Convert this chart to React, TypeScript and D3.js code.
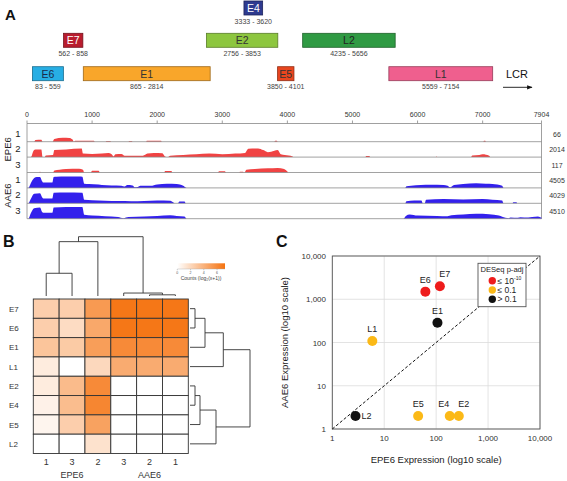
import React from 'react';
import * as d3 from 'd3';

// ---------- Panel A data ----------
const genomeLength = 7904;
const genomeTicks = [0, 1000, 2000, 3000, 4000, 5000, 6000, 7000, 7904];
const geneNames = ['E6', 'E7', 'E1', 'E2', 'E4', 'E5', 'L2', 'L1'];
const geneStart = [83, 562, 865, 2756, 3333, 3850, 4235, 5559];
const geneEnd = [559, 858, 2814, 3853, 3620, 4101, 5656, 7154];
const geneLane = [2, 1, 2, 1, 0, 2, 1, 2];
const geneFill = ['#27aee4', '#b91c2e', '#f9a62a', '#8dc63f', '#2e3a8f', '#e8461f', '#2f9a43', '#ef5f8e'];
const geneText = ['#1a2a4a', '#ffffff', '#333333', '#333333', '#ffffff', '#333333', '#222222', '#333333'];

const trackGroups = ['EPE6', 'EPE6', 'EPE6', 'AAE6', 'AAE6', 'AAE6'];
const trackReps = ['1', '2', '3', '1', '2', '3'];
const trackMax = [66, 2014, 117, 4505, 4029, 4510];

const covEPE6_1: [number, number][] = [[0, 0], [110, 0], [130, 0.12], [220, 0.14], [240, 0], [390, 0], [420, 0.2], [550, 0.28], [650, 0.27], [700, 0.15], [720, 0], [740, 0.06], [1030, 0.06], [1040, 0], [1210, 0], [1220, 0.05], [1280, 0.05], [1290, 0], [1560, 0], [1570, 0.05], [1610, 0.05], [1620, 0], [1830, 0], [1840, 0.07], [2060, 0.07], [2070, 0], [3800, 0], [3810, 0.06], [3840, 0.06], [3850, 0], [7010, 0], [7020, 0.06], [7040, 0.06], [7050, 0], [7904, 0]];
const covEPE6_2: [number, number][] = [[0, 0], [60, 0], [100, 0.45], [130, 0.55], [220, 0.55], [240, 0], [270, 0], [290, 0.12], [400, 0.15], [420, 0.5], [600, 0.55], [840, 0.62], [860, 0.25], [1000, 0.22], [1150, 0.25], [1250, 0.3], [1300, 0.2], [1330, 0.05], [1360, 0.2], [1450, 0.22], [1500, 0.1], [1600, 0.1], [1780, 0.1], [1850, 0.25], [1950, 0.3], [2080, 0.28], [2120, 0.05], [2160, 0], [2200, 0.1], [2400, 0.15], [2600, 0.2], [2800, 0.25], [3000, 0.2], [3200, 0.25], [3350, 0.3], [3400, 0.6], [3550, 0.62], [3630, 0.5], [3700, 0.35], [3800, 0.45], [3850, 0.5], [3900, 0.2], [3960, 0.15], [4080, 0.05], [4100, 0], [5200, 0], [5210, 0.07], [5260, 0.07], [5270, 0], [6280, 0], [6290, 0.04], [6300, 0], [6820, 0], [6840, 0.12], [6950, 0.15], [7000, 0.2], [7050, 0.17], [7100, 0.1], [7120, 0], [7904, 0]];
const covEPE6_3: [number, number][] = [[0, 0], [190, 0], [200, 0.07], [210, 0], [400, 0], [420, 0.15], [500, 0.2], [600, 0.25], [800, 0.27], [860, 0.2], [880, 0], [980, 0], [1000, 0.12], [1100, 0.12], [1120, 0], [2110, 0], [2120, 0.1], [2220, 0.1], [2230, 0], [2930, 0], [2950, 0.09], [3040, 0.09], [3060, 0], [3260, 0], [3270, 0.06], [3320, 0.06], [3330, 0], [3340, 0], [3370, 0.2], [3500, 0.25], [3700, 0.3], [3850, 0.33], [3950, 0.25], [4000, 0.08], [4020, 0], [7904, 0]];
const covAAE6_1: [number, number][] = [[0, 0], [20, 0], [60, 0.35], [110, 0.7], [150, 0.78], [200, 0.78], [230, 0.5], [250, 0.38], [390, 0.38], [410, 0.78], [450, 0.8], [600, 0.82], [800, 0.82], [850, 0.8], [880, 0.3], [950, 0.27], [1100, 0.25], [1150, 0.2], [1300, 0.17], [1450, 0.15], [1500, 0.1], [1540, 0.2], [1620, 0.18], [1660, 0.04], [1700, 0.06], [1740, 0.15], [1900, 0.15], [2000, 0.25], [2150, 0.3], [2300, 0.27], [2400, 0.15], [2450, 0], [5810, 0], [5830, 0.12], [5900, 0.15], [6050, 0.2], [6200, 0.22], [6400, 0.2], [6460, 0.15], [6500, 0.04], [6560, 0.2], [6700, 0.28], [6900, 0.33], [7050, 0.3], [7150, 0.28], [7300, 0.15], [7320, 0], [7904, 0]];
const covAAE6_2: [number, number][] = [[0, 0], [20, 0], [60, 0.33], [110, 0.68], [200, 0.72], [230, 0.45], [250, 0.35], [390, 0.35], [410, 0.75], [600, 0.78], [850, 0.76], [880, 0.25], [1000, 0.22], [1200, 0.18], [1400, 0.16], [1600, 0.15], [1800, 0.17], [2000, 0.2], [2200, 0.18], [2250, 0.05], [2270, 0], [2320, 0], [2340, 0.12], [2420, 0.13], [2440, 0], [5810, 0], [5830, 0.15], [5950, 0.2], [6060, 0.2], [6080, 0], [6110, 0], [6130, 0.25], [6400, 0.3], [6700, 0.28], [7000, 0.3], [7150, 0.25], [7300, 0.2], [7320, 0], [7460, 0], [7470, 0.07], [7520, 0.07], [7530, 0], [7904, 0]];
const covAAE6_3: [number, number][] = [[0, 0], [20, 0], [60, 0.4], [110, 0.75], [200, 0.8], [230, 0.5], [250, 0.42], [390, 0.42], [410, 0.8], [600, 0.84], [850, 0.84], [880, 0.28], [1000, 0.22], [1200, 0.18], [1400, 0.12], [1480, 0.04], [1560, 0.12], [1800, 0.15], [2000, 0.2], [2200, 0.24], [2300, 0.2], [2420, 0.15], [2450, 0], [5780, 0], [5820, 0.2], [5880, 0.3], [6000, 0.22], [6300, 0.2], [6460, 0.18], [6520, 0.25], [6700, 0.3], [6900, 0.35], [7100, 0.32], [7250, 0.22], [7350, 0.06], [7400, 0.04], [7430, 0.08], [7540, 0.06], [7580, 0.1], [7700, 0.08], [7760, 0.12], [7850, 0.15], [7904, 0.06]];
const coverage = [covEPE6_1, covEPE6_2, covEPE6_3, covAAE6_1, covAAE6_2, covAAE6_3];

// ---------- Panel B data ----------
const heatRows = ['E7', 'E6', 'E1', 'L1', 'E2', 'E4', 'E5', 'L2'];
const heatCols = ['EPE6-1', 'EPE6-3', 'EPE6-2', 'AAE6-3', 'AAE6-2', 'AAE6-1'];
const heatColLabels = ['1', '3', '2', '3', '2', '1'];
const heatValues = [
  [2.5, 2.5, 5.2, 7.0, 7.0, 7.0],
  [2.5, 1.8, 4.5, 7.0, 7.0, 7.0],
  [3.0, 2.7, 5.0, 6.0, 6.0, 6.0],
  [1.0, 0.0, 2.0, 4.3, 4.3, 4.3],
  [1.0, 3.5, 6.0, 0.0, 0.0, 0.0],
  [0.7, 3.4, 6.2, 0.0, 0.0, 0.0],
  [0.5, 2.5, 4.8, 0.0, 0.0, 0.0],
  [0.0, 0.0, 1.5, 0.0, 0.0, 0.0],
];
const legendTicks = [0, 2, 4, 6];
type Tree = { h: number; c: (Tree | string)[] };
const colTree: Tree = { h: 6, c: [{ h: 5.5, c: [{ h: 2.3, c: ['EPE6-1', 'EPE6-3'] }, 'EPE6-2'] }, { h: 0.3, c: ['AAE6-3', { h: 0.12, c: ['AAE6-2', 'AAE6-1'] }] }] };
const rowTree: Tree = { h: 6, c: [{ h: 3.33, c: [{ h: 1.5, c: [{ h: 0.5, c: ['E7', 'E6'] }, 'E1'] }, 'L1'] }, { h: 2.6, c: [{ h: 1.0, c: [{ h: 0.5, c: ['E2', 'E4'] }, 'E5'] }, 'L2'] }] };

// ---------- Panel C data ----------
const scatterGenes = ['E6', 'E7', 'E1', 'L1', 'L2', 'E5', 'E4', 'E2'];
const epe6Expr = [62, 118, 106, 5.9, 2.8, 45, 183, 273];
const aae6Expr = [1500, 2000, 285, 108, 2, 2, 2, 2];
const padjClass = [0, 0, 2, 1, 2, 1, 1, 1];
const labelSide = ['up', 'upright', 'up', 'up', 'right', 'up', 'upleft', 'upright'];
const logTicks = [1, 10, 100, 1000, 10000];
const classLabels = ['≤ 10', '≤ 0.1', '> 0.1'];
const classColors = ['#ee1c1c', '#fbb917', '#111111'];

const FONT = 'Liberation Sans, Arial, Helvetica, sans-serif';

function dendro(node: Tree | string, leafPos: (n: string) => number, out: number[][]): { p: number; h: number } {
  if (typeof node === 'string') return { p: leafPos(node), h: 0 };
  const kids = node.c.map((k) => dendro(k, leafPos, out));
  kids.forEach((k) => out.push([k.p, k.h, k.p, node.h]));
  out.push([kids[0].p, node.h, kids[kids.length - 1].p, node.h]);
  return { p: d3.mean(kids, (k) => k.p) as number, h: node.h };
}

export default function App() {
  // Panel A scales
  const gx = d3.scaleLinear().domain([0, genomeLength]).range([27, 541.5]);
  const laneTop = [1, 33.3, 66.7];
  const trackH = 15.4;
  const firstBase = 141.7;
  const axisTop = 123.5;

  // Panel B scales
  const hx = d3.scaleBand().domain(heatCols).range([33.3, 188.3]);
  const hy = d3.scaleBand().domain(heatRows).range([299, 453.5]);
  const heatColor = d3.scaleLinear<string>().domain([0, 7.2]).range(['#ffffff', '#f57310']);
  const colSegs: number[][] = [];
  dendro(colTree, (n) => (hx(n) as number) + hx.bandwidth() / 2, colSegs);
  const colH = d3.scaleLinear().domain([0, 6]).range([296, 236.7]);
  const rowSegs: number[][] = [];
  dendro(rowTree, (n) => (hy(n) as number) + hy.bandwidth() / 2, rowSegs);
  const rowH = d3.scaleLinear().domain([0, 6]).range([190, 250]);
  const legX = d3.scaleLinear().domain([0, 7.2]).range([177.3, 225]);

  // Panel C scales
  const sx = d3.scaleLog().domain([1, 10000]).range([332.3, 540]);
  const sy = d3.scaleLog().domain([1, 10000]).range([429, 256]);
  const fmt = d3.format(',');

  return (
    <svg width={567} height={481} style={{ position: 'absolute', left: 0, top: 0, background: '#fff' }} fontFamily={FONT}>
      <defs>
        <linearGradient id="heatgrad" x1="0" x2="1" y1="0" y2="0">
          <stop offset="0%" stopColor={heatColor(0)} />
          <stop offset="100%" stopColor={heatColor(7.2)} />
        </linearGradient>
        <marker id="arrow" viewBox="0 0 10 10" refX="9" refY="5" markerWidth="6" markerHeight="6" orient="auto">
          <path d="M0,1 L10,5 L0,9 z" fill="#111" />
        </marker>
      </defs>
      <rect width={567} height={481} fill="#fff" />

      {/* ===== Panel A ===== */}
      <text x={5} y={20} fontSize={15} fontWeight="bold" fill="#111">A</text>
      {geneNames.map((g, i) => {
        const x0 = gx(geneStart[i]);
        const x1 = gx(geneEnd[i]);
        const top = laneTop[geneLane[i]];
        const c = d3.color(geneFill[i])!.darker(1.3).formatHex();
        return (
          <g key={g}>
            <rect x={x0} y={top} width={x1 - x0} height={14} fill={geneFill[i]} stroke={c} strokeWidth={0.8} />
            <text x={(x0 + x1) / 2} y={top + 11} fontSize={10.5} textAnchor="middle" fill={geneText[i]}>{g}</text>
            <text x={(x0 + x1) / 2} y={top + 22.5} fontSize={7} textAnchor="middle" fill="#444">{`${geneStart[i]} - ${geneEnd[i]}`}</text>
          </g>
        );
      })}
      <text x={517} y={78} fontSize={11} textAnchor="middle" fill="#111">LCR</text>
      <line x1={503} y1={87.3} x2={532} y2={87.3} stroke="#111" strokeWidth={0.9} markerEnd="url(#arrow)" />

      {/* genome axis */}
      <line x1={gx(0)} x2={gx(genomeLength)} y1={axisTop} y2={axisTop} stroke="#888" strokeWidth={0.8} />
      {genomeTicks.map((t) => (
        <g key={t}>
          <line x1={gx(t)} x2={gx(t)} y1={axisTop - 3} y2={axisTop} stroke="#888" strokeWidth={0.8} />
          <text x={gx(t)} y={117} fontSize={7} textAnchor="middle" fill="#333">{t}</text>
        </g>
      ))}
      <line x1={gx(0)} x2={gx(0)} y1={axisTop} y2={firstBase + 5 * trackH} stroke="#888" strokeWidth={0.8} />
      <line x1={gx(genomeLength)} x2={gx(genomeLength)} y1={axisTop} y2={firstBase + 5 * trackH} stroke="#888" strokeWidth={0.8} />
      {coverage.map((cov, i) => {
        const base = firstBase + i * trackH;
        const yy = d3.scaleLinear().domain([0, 1]).range([base, base - 14]);
        const area = d3.area<[number, number]>()
          .x((d) => gx(d[0]))
          .y0(base)
          .y1((d) => yy(d[1]))
          .curve(d3.curveMonotoneX);
        const col = trackGroups[i] === 'EPE6' ? '#f04343' : '#3320ec';
        return (
          <g key={i}>
            <path d={area(cov) || ''} fill={col} />
            <line x1={gx(0)} x2={gx(genomeLength)} y1={base} y2={base} stroke="#8a8a8a" strokeWidth={0.8} />
            <text x={18} y={base - 5} fontSize={9.5} textAnchor="middle" fill="#222">{trackReps[i]}</text>
            <text x={557} y={base - 5} fontSize={7} textAnchor="middle" fill="#333">{trackMax[i]}</text>
          </g>
        );
      })}
      <text transform={`translate(11,${firstBase + trackH * 0.5}) rotate(-90)`} fontSize={9.5} textAnchor="middle" fill="#222">EPE6</text>
      <text transform={`translate(11,${firstBase + trackH * 3.5}) rotate(-90)`} fontSize={9.5} textAnchor="middle" fill="#222">AAE6</text>

      {/* ===== Panel B ===== */}
      <text x={3} y={247} fontSize={16} fontWeight="bold" fill="#111">B</text>
      {heatRows.map((r, ri) =>
        heatCols.map((c, ci) => (
          <rect key={r + c} x={hx(c)} y={hy(r)} width={hx.bandwidth()} height={hy.bandwidth()}
            fill={heatColor(heatValues[ri][ci])} stroke="#333" strokeWidth={0.9} />
        ))
      )}
      {heatRows.map((r) => (
        <text key={r} x={9} y={(hy(r) as number) + hy.bandwidth() / 2 + 3} fontSize={8} fill="#333">{r}</text>
      ))}
      {heatCols.map((c, i) => (
        <text key={c} x={(hx(c) as number) + hx.bandwidth() / 2} y={465} fontSize={9} textAnchor="middle" fill="#333">{heatColLabels[i]}</text>
      ))}
      <text x={72} y={478} fontSize={9} textAnchor="middle" fill="#333">EPE6</text>
      <text x={149.5} y={478} fontSize={9} textAnchor="middle" fill="#333">AAE6</text>
      {colSegs.map((s, i) => (
        <line key={'c' + i} x1={s[0]} x2={s[2]} y1={colH(s[1])} y2={colH(s[3])} stroke="#333" strokeWidth={0.9} />
      ))}
      {rowSegs.map((s, i) => (
        <line key={'r' + i} y1={s[0]} y2={s[2]} x1={rowH(s[1])} x2={rowH(s[3])} stroke="#333" strokeWidth={0.9} />
      ))}
      <rect x={legX(0)} y={263.3} width={legX(7.2) - legX(0)} height={5.7} fill="url(#heatgrad)" />
      <line x1={legX(0)} x2={legX(7.2)} y1={269} y2={269} stroke="#aaa" strokeWidth={0.4} />
      {legendTicks.map((t) => (
        <g key={t}>
          <line x1={legX(t)} x2={legX(t)} y1={269} y2={270.3} stroke="#888" strokeWidth={0.4} />
          <text x={legX(t)} y={273.5} fontSize={3.5} textAnchor="middle" fill="#555">{t}</text>
        </g>
      ))}
      <text x={201} y={280} fontSize={5} textAnchor="middle" fill="#444">Counts (log₂(x+1))</text>

      {/* ===== Panel C ===== */}
      <text x={276} y={247} fontSize={16} fontWeight="bold" fill="#111">C</text>
      {logTicks.map((t) => (
        <g key={t}>
          <line x1={sx(t)} x2={sx(t)} y1={sy(1)} y2={sy(10000)} stroke="#dcdcdc" strokeWidth={0.8} />
          <line x1={sx(1)} x2={sx(10000)} y1={sy(t)} y2={sy(t)} stroke="#dcdcdc" strokeWidth={0.8} />
          <text x={sx(t)} y={441} fontSize={8} textAnchor="middle" fill="#333">{fmt(t)}</text>
          <text x={326} y={sy(t) + 3} fontSize={8} textAnchor="end" fill="#333">{fmt(t)}</text>
        </g>
      ))}
      <rect x={sx(1)} y={sy(10000)} width={sx(10000) - sx(1)} height={sy(1) - sy(10000)} fill="none" stroke="#555" strokeWidth={0.9} />
      <line x1={sx(1)} y1={sy(1)} x2={sx(10000)} y2={sy(10000)} stroke="#111" strokeWidth={1} strokeDasharray="3,2" />
      {scatterGenes.map((g, i) => {
        const px = sx(epe6Expr[i]);
        const py = sy(aae6Expr[i]);
        const side = labelSide[i];
        let lx = px, ly = py - 9, anchor: 'middle' | 'start' = 'middle';
        if (side === 'upright') { lx = px + 5; }
        if (side === 'upleft') { lx = px - 6; }
        if (side === 'right') { lx = px + 6; ly = py + 3.5; anchor = 'start'; }
        return (
          <g key={g}>
            <circle cx={px} cy={py} r={5} fill={classColors[padjClass[i]]} />
            <text x={lx} y={ly} fontSize={9} textAnchor={anchor} fill="#222">{g}</text>
          </g>
        );
      })}
      <text x={(sx(1) + sx(10000)) / 2} y={462.5} fontSize={9.5} textAnchor="middle" fill="#222">EPE6 Expression (log10 scale)</text>
      <text transform={`translate(288,${(sy(1) + sy(10000)) / 2}) rotate(-90)`} fontSize={9.5} textAnchor="middle" fill="#222">AAE6 Expression (log10 scale)</text>
      {/* legend */}
      <rect x={478} y={263.3} width={48} height={43.4} fill="#fff" stroke="#555" strokeWidth={0.9} />
      <text x={502} y={272} fontSize={7.6} textAnchor="middle" fill="#222">DESeq p-adj</text>
      {classLabels.map((lab, i) => (
        <g key={i}>
          <circle cx={492.3} cy={280.7 + i * 9.3} r={3.7} fill={classColors[i]} />
          <text x={497.5} y={283.7 + i * 9.3} fontSize={8.5} fill="#222">
            {lab}
            {i === 0 ? <tspan fontSize={5} dy={-4}>-10</tspan> : null}
          </text>
        </g>
      ))}
    </svg>
  );
}
